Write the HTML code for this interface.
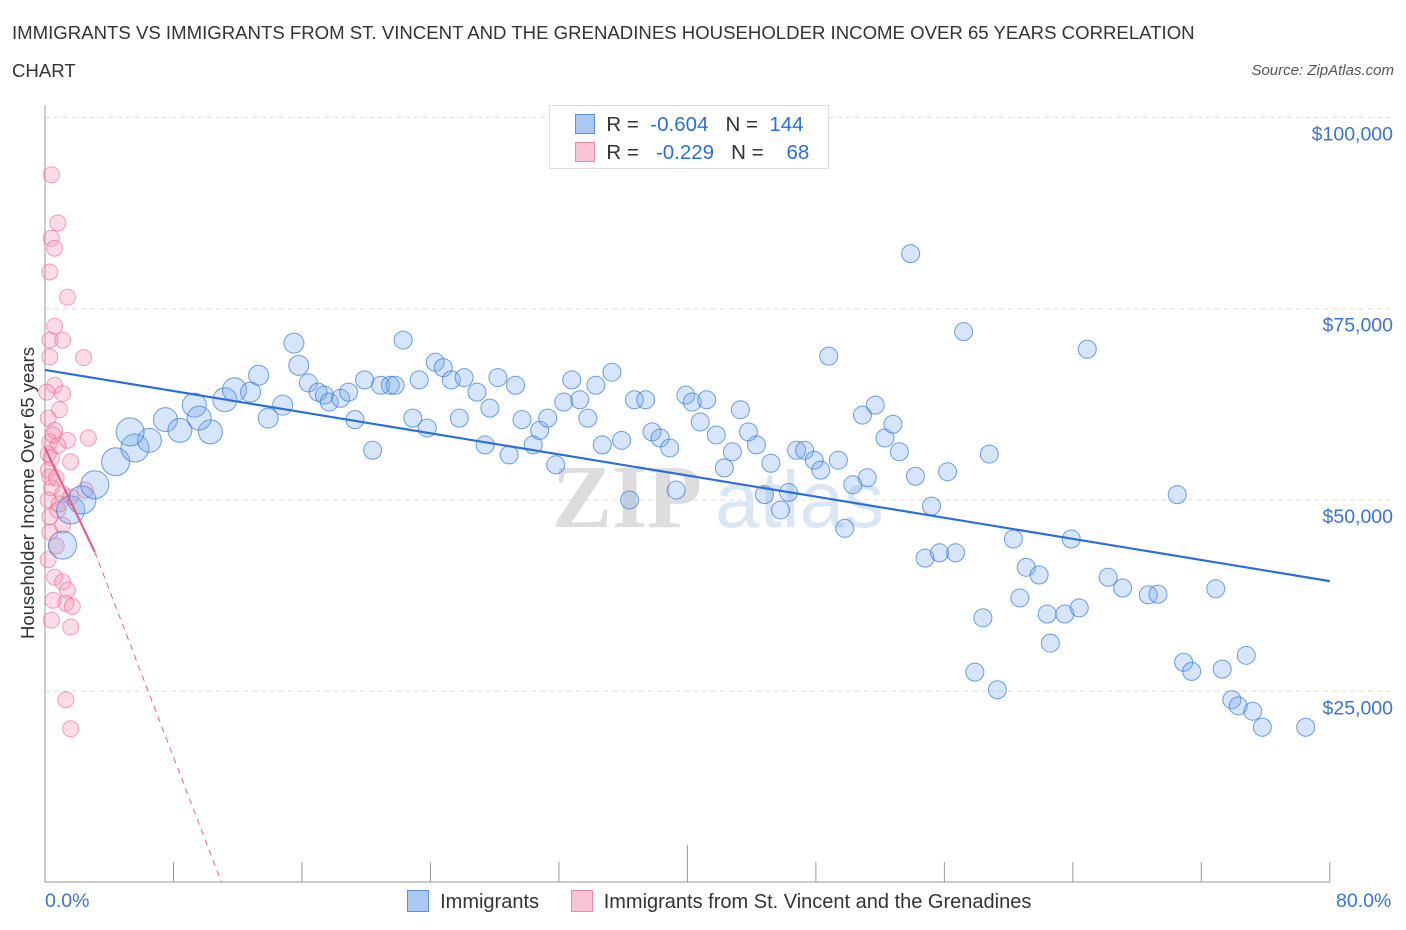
<!DOCTYPE html>
<html><head><meta charset="utf-8"><style>
body{margin:0;background:#fff;font-family:"Liberation Sans",sans-serif;}
#wrap{position:relative;width:1406px;height:930px;overflow:hidden;}
.t{position:absolute;white-space:nowrap;}
</style></head><body>
<div id="wrap">
<div class="t" style="left:12px;top:14px;font-size:18.6px;color:#333;line-height:38px;width:1220px;white-space:normal">IMMIGRANTS VS IMMIGRANTS FROM ST. VINCENT AND THE GRENADINES HOUSEHOLDER INCOME OVER 65 YEARS CORRELATION CHART</div>
<div class="t" style="right:12px;top:62px;font-size:15px;color:#555;font-style:italic">Source: ZipAtlas.com</div>
<svg id="plot" width="1406" height="930" style="position:absolute;left:0;top:0"></svg>
</div>
<script>
const blueX=[1.1,1.6,2.3,3.1,4.4,5.6,6.5,5.3,7.5,8.4,9.3,10.3,9.6,11.2,11.8,12.8,13.3,13.9,14.8,15.5,15.8,16.4,17.0,17.4,17.7,18.4,18.9,19.3,19.9,20.4,20.9,21.5,21.8,22.3,22.9,23.3,23.8,24.3,24.8,25.3,25.8,26.1,26.9,27.4,27.7,28.2,28.9,29.3,29.7,30.4,30.8,31.3,31.8,32.3,32.8,33.3,33.8,34.3,34.7,35.3,35.9,36.4,36.7,37.4,37.8,38.3,38.9,39.3,39.9,40.3,40.8,41.2,41.8,42.3,42.8,43.3,43.8,44.3,44.8,45.2,45.8,46.3,46.8,47.3,47.9,48.3,48.8,49.4,49.8,50.3,50.9,51.2,51.7,52.3,52.8,53.2,53.9,54.2,54.8,55.2,55.7,56.2,56.7,57.2,57.9,58.4,58.8,59.3,60.3,60.7,61.1,61.9,62.4,62.6,63.5,63.9,64.4,64.9,66.2,67.1,68.7,69.3,70.5,70.9,71.4,72.9,73.3,73.9,74.3,74.8,75.2,75.8,78.5];
const blueY=[44.1,48.7,50,52,55,56.8,57.8,58.9,60.5,59.1,62.4,58.9,60.7,63.1,64.4,64.1,66.3,60.7,62.4,70.5,67.6,65.3,64.1,63.7,62.8,63.3,64.1,60.5,65.7,56.5,65,65,65,70.9,60.7,65.7,59.4,68,67.3,65.7,60.7,66,64.1,57.2,62,66,55.9,65,60.5,57.2,59.1,60.7,54.6,62.8,65.7,63.1,60.7,65,57.2,66.7,57.8,50,63.1,63.1,58.9,58.1,56.8,51.3,63.7,62.8,60.2,63.1,58.5,54.2,56.3,61.8,58.9,57.2,50.7,54.8,48.7,51,56.5,56.5,55.2,53.9,68.8,55.2,46.3,52,61.1,52.9,62.4,58.1,59.9,56.3,82.2,53.1,42.4,49.2,43.1,53.7,43.1,72,27.5,34.6,56,25.2,44.9,37.2,41.2,40.2,35.1,31.3,35.1,44.9,35.9,69.7,39.9,38.5,37.6,37.7,50.7,28.8,27.6,38.4,27.9,23.9,23.1,29.7,22.4,20.3,20.3];
const pinkX=[0.4,0.8,0.4,0.6,0.3,1.4,0.6,0.3,1.1,0.3,2.4,0.6,0.1,1.1,0.9,0.2,0.6,1.4,2.7,0.3,0.8,0.4,1.6,0.2,0.7,0.4,1.1,1.6,0.2,2.5,0.8,0.3,1.1,0.3,0.7,0.2,0.6,1.1,1.4,0.5,1.3,1.7,0.4,1.6,1.3,1.6,0.2,0.5,0.9,0.3];
const pinkY=[92.5,86.2,84.2,82.9,79.8,76.5,72.7,70.9,70.9,68.7,68.6,65,64.1,63.9,61.8,60.7,59.1,57.8,58.1,57.6,57.1,55.5,55,53.9,52.9,51.6,50.8,50.4,50,51.3,48.7,47.8,46.7,45.8,44,42.2,39.9,39.3,38.2,36.9,36.5,36.1,34.3,33.4,23.9,20.1,56,58.5,49.5,53];
const yTicks=[25000,50000,75000,100000];
const yTickLabels=["$25,000","$50,000","$75,000","$100,000"];
const blueTrend=[[0,67.0],[80,39.4]];
const pinkTrendSolid=[[0,56.8],[3.1,43.2]];
const pinkTrendDash=[[3.1,43.2],[11.0,0]];
const NS="http://www.w3.org/2000/svg";
const svg=document.getElementById('plot');
const sx=p=>45+p*16.06;
const sy=k=>500-(k-50)*7.652;
function mk(tag,attrs){const e=document.createElementNS(NS,tag);for(const k in attrs)e.setAttribute(k,attrs[k]);svg.appendChild(e);return e;}
yTicks.forEach((v,i)=>{const y=sy(v/1000);
const g=mk('line',{x1:45,x2:1395,y1:y,y2:y,stroke:'#ddd','stroke-dasharray':'5,4'});


const t=mk('text',{x:1393,y:y+23,'text-anchor':'end','font-size':19.5,fill:'#3b73d1','font-family':'Liberation Sans, sans-serif'});t.textContent=yTickLabels[i];

});
let ax=mk('line',{x1:45,x2:45,y1:105,y2:882,stroke:'#999'});


ax=mk('line',{x1:45,x2:1330,y1:882,y2:882,stroke:'#999'});


for(let i=0;i<=10;i++){const x=sx(i*8);const tk=mk('line',{x1:x,x2:x,y1:i==5?845:862,y2:882,stroke:'#999'});

}
let wm=mk('text',{x:552,y:527,'font-size':90,fill:'#ddd','font-family':'Liberation Serif, serif','font-weight':'bold'});wm.textContent='ZIP';


wm=mk('text',{x:715,y:527,'font-size':80,fill:'#dbe6f5','font-family':'Liberation Sans, sans-serif'});wm.textContent='atlas';


pinkX.forEach((x,i)=>{const c=mk('circle',{cx:sx(x),cy:sy(pinkY[i]),r:8,fill:'rgba(244,143,177,0.3)',stroke:'rgba(236,100,140,0.6)','stroke-width':1});

});
blueX.forEach((x,i)=>{const r=x<6?14:(x<12?12:(x<16?10:9));const c=mk('circle',{cx:sx(x),cy:sy(blueY[i]),r:r,fill:'rgba(120,170,235,0.3)',stroke:'rgba(50,120,220,0.7)','stroke-width':1});

});
let l=mk('line',{x1:sx(blueTrend[0][0]),y1:sy(blueTrend[0][1]),x2:sx(blueTrend[1][0]),y2:sy(blueTrend[1][1]),stroke:'#2b6fd6','stroke-width':2.2});


l=mk('line',{x1:sx(pinkTrendSolid[0][0]),y1:sy(pinkTrendSolid[0][1]),x2:sx(pinkTrendSolid[1][0]),y2:sy(pinkTrendSolid[1][1]),stroke:'#e8608a','stroke-width':2.2});


l=mk('line',{x1:sx(pinkTrendDash[0][0]),y1:sy(pinkTrendDash[0][1]),x2:sx(pinkTrendDash[1][0]),y2:sy(pinkTrendDash[1][1]),stroke:'#e8608a','stroke-width':1,'stroke-dasharray':'6,5'});


</script>
<div class="t" style="left:28px;top:493px;font-size:18.5px;color:#333;transform:translate(-50%,-50%) rotate(-90deg)">Householder Income Over 65 years</div>
<div class="t" style="left:45px;top:890px;font-size:19.5px;color:#3b73d1">0.0%</div>
<div class="t" style="left:1336px;top:890px;font-size:19.5px;color:#3b73d1">80.0%</div>
<div style="position:absolute;left:549px;top:105px;width:278px;height:62px;border:1px solid #ddd;background:#fff;font-size:20.5px;color:#333">
 <div style="position:absolute;left:25px;top:7px;white-space:nowrap"><span style="display:inline-block;width:18px;height:18px;background:#aac9f0;border:1px solid #5a8fd9;vertical-align:-3px"></span> &nbsp;R = &nbsp;<span style="color:#2b6fd6">-0.604</span> &nbsp;&nbsp;N = &nbsp;<span style="color:#2b6fd6">144</span></div>
 <div style="position:absolute;left:25px;top:35px;white-space:nowrap"><span style="display:inline-block;width:18px;height:18px;background:#f8c3d3;border:1px solid #e88aa8;vertical-align:-3px"></span> &nbsp;R = &nbsp;&nbsp;<span style="color:#2b6fd6">-0.229</span> &nbsp;&nbsp;N = &nbsp;&nbsp;&nbsp;<span style="color:#2b6fd6">68</span></div>
</div>
<div style="position:absolute;left:407px;top:890px;font-size:20px;color:#333;white-space:nowrap">
 <span><span style="display:inline-block;width:20px;height:20px;background:#aac9f0;border:1px solid #5a8fd9;vertical-align:-4px"></span>&nbsp; Immigrants</span>
 <span style="margin-left:26px"><span style="display:inline-block;width:20px;height:20px;background:#f8c3d3;border:1px solid #e88aa8;vertical-align:-4px"></span>&nbsp; Immigrants from St. Vincent and the Grenadines</span>
</div>
</body></html>
